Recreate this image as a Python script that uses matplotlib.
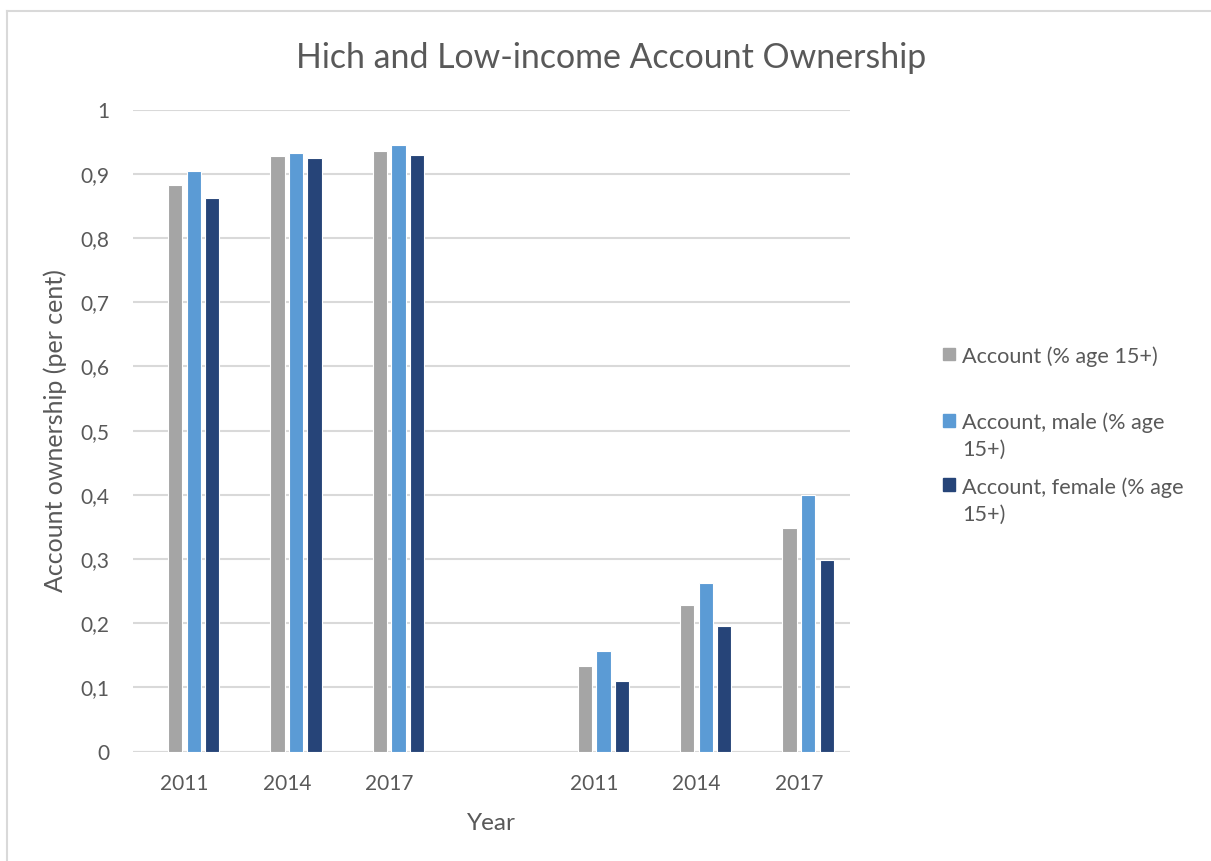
import numpy as np
import matplotlib.pyplot as plt
from matplotlib.lines import Line2D
from matplotlib.patches import Rectangle

# account ownership shares, high-income block then low-income block
years = ['2011', '2014', '2017', '', '2011', '2014', '2017']
account_total = [0.882, 0.928, 0.936, np.nan, 0.134, 0.228, 0.348]
account_male = [0.904, 0.932, 0.945, np.nan, 0.157, 0.263, 0.400]
account_female = [0.862, 0.924, 0.929, np.nan, 0.110, 0.195, 0.299]

series_labels = ['Account (% age 15+)',
                 'Account, male (% age\n15+)',
                 'Account, female (% age\n15+)']
series_colors = ['#A5A5A5', '#5B9BD5', '#264478']

TEXT = '#595959'
GRID = '#D9D9D9'
FONT = ['Lato', 'DejaVu Sans']

plt.rcParams['font.family'] = FONT

fig = plt.figure(figsize=(12.11, 8.61), dpi=100)
ax = fig.add_axes([0.110, 0.127, 0.592, 0.7456])

x = np.arange(len(years))
step = 0.181
width = 0.14
offsets = [-0.5 * step, 0.5 * step, 1.5 * step]
for vals, off, col in zip([account_total, account_male, account_female], offsets, series_colors):
    ax.bar(x + off, vals, width=width, color=col, edgecolor='white', linewidth=0.8, zorder=3)

ax.set_xlim(-0.5, len(years) - 0.5)
ax.set_ylim(0, 1)
ax.set_xticks(x)
ax.set_xticklabels(years)
ax.set_yticks(np.arange(0, 1.01, 0.1))
ax.set_yticklabels(['0'] + [('%.1f' % v).replace('.', ',') for v in np.arange(0.1, 0.95, 0.1)] + ['1'])
ax.tick_params(axis='both', length=0, labelsize=15, colors=TEXT)
ax.tick_params(axis='y', pad=17)
ax.tick_params(axis='x', pad=16)
ax.grid(axis='y', color=GRID, linewidth=1.5, zorder=0)
for s in ax.spines.values():
    s.set_visible(False)
ax.axhline(0, color=GRID, linewidth=1.5, zorder=2)

ax.set_xlabel('Year', fontsize=17.5, color=TEXT, labelpad=14)
ax.set_ylabel('Account ownership (per cent)', fontsize=18, color=TEXT, labelpad=10)

fig.text(0.5045, 0.933, 'Hich and Low-income Account Ownership', fontsize=24.4,
         color=TEXT, ha='center', va='center')

# legend drawn by hand so the swatch sits on the first line of each label
legend_y = [0.589, 0.512, 0.437]
for lab, col, ly in zip(series_labels, series_colors, legend_y):
    fig.patches.append(Rectangle((0.7785, ly - 0.0075), 0.0105, 0.0148,
                                 transform=fig.transFigure, color=col))
    fig.text(0.7945, ly + 0.0085, lab, fontsize=15.6, color=TEXT, ha='left', va='top',
             linespacing=1.4)

# chart frame
fig.add_artist(Line2D([0.0058, 1.0], [0.987, 0.987], transform=fig.transFigure,
                      color='#D9D9D9', linewidth=1.5))
fig.add_artist(Line2D([0.0058, 0.0058], [0.0, 0.987], transform=fig.transFigure,
                      color='#D9D9D9', linewidth=1.5))

fig.savefig('out.png', dpi=100)
